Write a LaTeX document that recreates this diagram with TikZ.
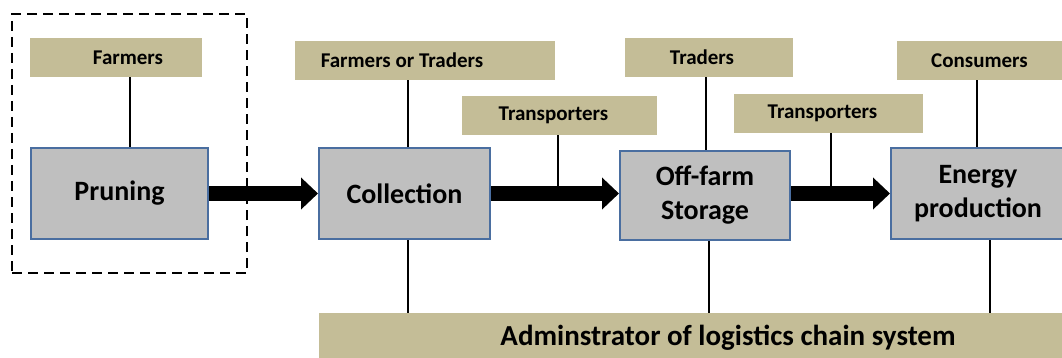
\documentclass[tikz,border=0pt]{standalone}
\usepackage{fontspec}
\setmainfont{Carlito}
\usetikzlibrary{arrows.meta}
\definecolor{tanfill}{HTML}{C4BD97}
\definecolor{boxgray}{HTML}{BFBFBF}
\definecolor{boxblue}{HTML}{4A6EA0}
\begin{document}
\begin{tikzpicture}[x=1pt,y=-1pt,
  role/.style={fill=tanfill, inner sep=0pt, minimum height=39pt, font=\bfseries\fontsize{21}{25}\selectfont},
  stage/.style={fill=boxgray, draw=boxblue, line width=2pt, inner sep=0pt, align=center, font=\bfseries\fontsize{28}{34}\selectfont},
  link/.style={line width=2pt},
  flow/.style={line width=14pt, -{Triangle[length=17pt 0, width=31pt 0]}},
  groupbox/.style={draw, line width=2.5pt, dash pattern=on 10pt off 6pt, inner sep=0pt}]
\useasboundingbox (0,0) rectangle (1062,358);
\clip (0,0) rectangle (1062,358);
% group
\node[groupbox, minimum width=235pt, minimum height=259pt] (grp) at (129.5,143.5) {};
% role boxes
\node[role, minimum width=172pt] (farm) at (116,57.5) {\kern24pt Farmers};
\node[role, minimum width=260pt] (fot) at (425,60.5) {Farmers or Traders\kern46pt};
\node[role, minimum width=195pt] (tr1) at (559.5,115.5) {Transporters\kern12pt};
\node[role, minimum width=168pt] (trad) at (709,57.5) {Traders\kern14pt};
\node[role, minimum width=189pt] (tr2) at (828.5,113.5) {Transporters\kern12pt};
\node[role, minimum width=173pt] (cons) at (983.5,60.5) {Consumers\kern8pt};
% stages
\node[stage, minimum width=177pt, minimum height=91pt] (prun) at (119.5,193.5) {Pruning};
\node[stage, minimum width=171pt, minimum height=91pt] (coll) at (404.5,193.5) {Collection};
\node[stage, minimum width=170pt, minimum height=89pt] (off) at (705,195.5) {Off-farm\\Storage};
\node[stage, minimum width=174pt, minimum height=91pt] (ener) at (978,193.5) {Energy\\production};
% administrator
\node[fill=tanfill, inner sep=0pt, minimum width=821pt, minimum height=49pt, font=\bfseries\fontsize{29}{34}\selectfont] (adm) at (729.5,337.5) {Adminstrator of logistics chain system\kern3pt};
% flows
\draw[flow] (prun.east) -- (coll.west);
\draw[flow] (coll.east) -- (coll.east -| off.west);
\draw[flow] (off.east |- coll.east) -- (ener.west |- coll.east);
% vertical links
\coordinate (x1) at (130,0);
\coordinate (x2) at (408,0);
\coordinate (x3) at (558,0);
\coordinate (x4) at (706,0);
\coordinate (x5) at (831,0);
\coordinate (x6) at (977,0);
\coordinate (x7) at (709,0);
\coordinate (x8) at (990,0);
\draw[link] (farm.south -| x1) -- (prun.north -| x1);
\draw[link] (fot.south -| x2) -- (coll.north -| x2);
\draw[link] (tr1.south -| x3) -- (coll.east -| x3);
\draw[link] (trad.south -| x4) -- (off.north -| x4);
\draw[link] (tr2.south -| x5) -- (coll.east -| x5);
\draw[link] (cons.south -| x6) -- (ener.north -| x6);
\draw[link] (coll.south -| x2) -- (adm.north -| x2);
\draw[link] (off.south -| x7) -- (adm.north -| x7);
\draw[link] (ener.south -| x8) -- (adm.north -| x8);
\end{tikzpicture}
\end{document}
